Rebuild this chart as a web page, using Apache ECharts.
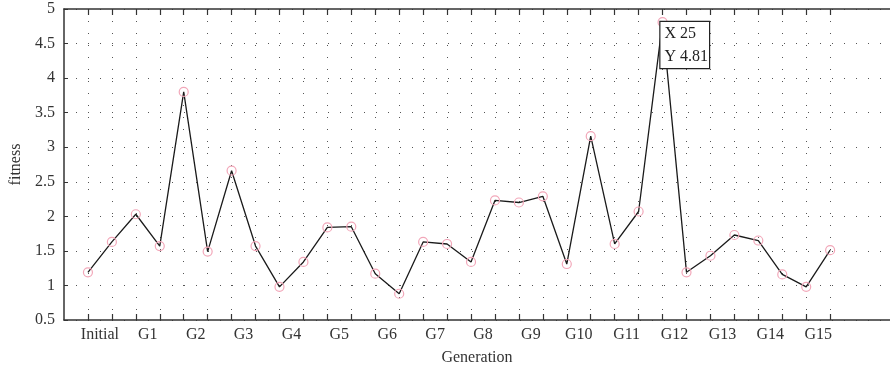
<!DOCTYPE html>
<html>
<head>
<meta charset="utf-8">
<script src="https://cdn.jsdelivr.net/npm/echarts@6/dist/echarts.min.js"></script>
<style>
  html, body { margin: 0; padding: 0; background: #fff; }
  #chart { width: 890px; height: 371px; }
</style>
</head>
<body>
<div id="chart"></div>
<script>
// generation labels sit between each pair of points
const genLabels = ['Initial', 'G1', 'G2', 'G3', 'G4', 'G5', 'G6', 'G7', 'G8', 'G9', 'G10', 'G11', 'G12', 'G13', 'G14', 'G15'];
const labelPos = [1.5, 3.5, 5.5, 7.5, 9.5, 11.5, 13.5, 15.5, 17.5, 19.5, 21.5, 23.5, 25.5, 27.5, 29.5, 31.5];
const xValues = [1, 2, 3, 4, 5, 6, 7, 8, 9, 10, 11, 12, 13, 14, 15, 16,
  17, 18, 19, 20, 21, 22, 23, 24, 25, 26, 27, 28, 29, 30, 31, 32];
const fitness = [1.19, 1.63, 2.03, 1.57, 3.80, 1.49, 2.66, 1.57, 0.98, 1.34, 1.84, 1.85, 1.17, 0.88, 1.63, 1.60,
  1.34, 2.23, 2.20, 2.29, 1.31, 3.16, 1.60, 2.07, 4.81, 1.19, 1.43, 1.73, 1.65, 1.16, 0.98, 1.51];
const tipIndex = 24; // X 25

const font = 'Liberation Serif';
const txt = '#333';

const data = xValues.map((x, i) => {
  if (i !== tipIndex) return [x, fitness[i]];
  return {
    value: [x, fitness[i]],
    label: {
      show: true,
      formatter: 'X ' + x + '\nY ' + fitness[i],
      position: [3, 5],
      align: 'left',
      verticalAlign: 'top',
      fontFamily: font,
      fontSize: 16,
      color: '#222',
      lineHeight: 23,
      backgroundColor: '#fff',
      borderColor: '#222',
      borderWidth: 1.2,
      padding: [0, 1, 0, 4]
    }
  };
});

const chart = echarts.init(document.getElementById('chart'));
chart.setOption({
  animation: false,
  backgroundColor: '#fff',
  grid: { left: 62, top: 9, right: 0, bottom: 51 },
  xAxis: [
    {
      type: 'value',
      min: 0,
      max: 34.5,
      name: 'Generation',
      nameLocation: 'middle',
      nameGap: 30,
      nameTextStyle: { fontFamily: font, fontSize: 16, color: txt },
      axisLine: { lineStyle: { color: '#333', width: 1.5 } },
      axisTick: { inside: true, length: 6, customValues: xValues, lineStyle: { color: '#333', width: 1.2 } },
      axisLabel: {
        customValues: labelPos,
        formatter: v => genLabels[labelPos.indexOf(v)] || '',
        fontFamily: font, fontSize: 16, color: txt, margin: 7
      },
      splitLine: { show: true, lineStyle: { color: '#555', width: 1, type: [1, 11] } }
    },
    {
      type: 'value',
      position: 'top',
      min: 0,
      max: 34.5,
      axisLine: { show: true, lineStyle: { color: '#333', width: 1.5 } },
      axisTick: { show: true, inside: true, length: 6, customValues: xValues, lineStyle: { color: '#333', width: 1.2 } },
      axisLabel: { show: false },
      splitLine: { show: false }
    }
  ],
  yAxis: {
    type: 'value',
    min: 0.5,
    max: 5,
    interval: 0.5,
    name: 'fitness',
    nameLocation: 'middle',
    nameGap: 40,
    nameTextStyle: { fontFamily: font, fontSize: 16, color: txt },
    axisLine: { show: true, lineStyle: { color: '#333', width: 1.5 } },
    axisTick: { show: true, inside: true, length: 4, lineStyle: { color: '#333' } },
    axisLabel: { fontFamily: font, fontSize: 16, color: txt, margin: 9 },
    splitLine: { show: true, lineStyle: { color: '#555', width: 1, type: [1, 11] } }
  },
  series: [{
    type: 'line',
    xAxisIndex: 0,
    data: data,
    symbol: 'circle',
    symbolSize: 9,
    itemStyle: { color: 'rgba(0,0,0,0)', borderColor: '#f2a7b9', borderWidth: 1.2 },
    lineStyle: { color: '#1a1a1a', width: 1.3 },
    emphasis: { disabled: true },
    z: 3
  }]
});
</script>
</body>
</html>
